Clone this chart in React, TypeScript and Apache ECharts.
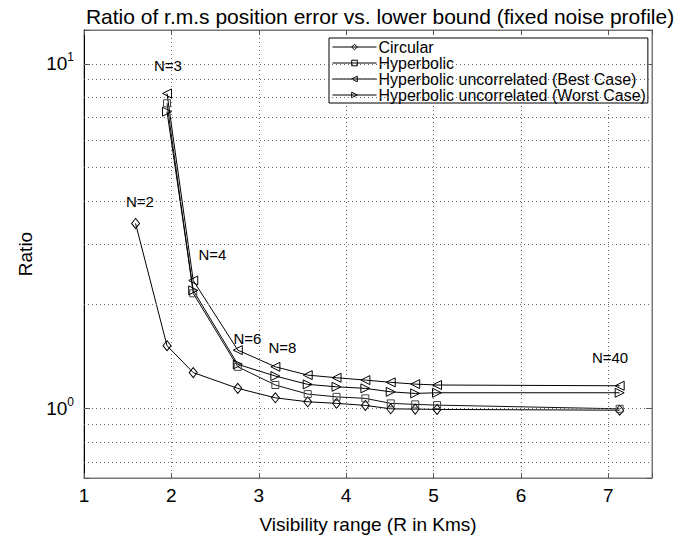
import React, { useEffect, useRef } from 'react';
import * as echarts from 'echarts';

// Visibility range (km) for N = 2, 3, 4, 6, 8, 10, 12, 14, 16, 18, 20, 40
const rangeKm = [1.59, 1.95, 2.25, 2.76, 3.19, 3.56, 3.89, 4.22, 4.51, 4.79, 5.04, 7.13];
const circular = [3.44, 1.52, 1.27, 1.143, 1.073, 1.045, 1.034, 1.02, 0.997, 0.995, 0.993, 0.988];
// Hyperbolic series start at N = 3
const hyperbolic = [7.68, 2.157, 1.32, 1.169, 1.1, 1.08, 1.069, 1.034, 1.027, 1.022, 0.997];
const bestCase = [8.2, 2.35, 1.476, 1.32, 1.249, 1.227, 1.208, 1.19, 1.176, 1.169, 1.163];
const worstCase = [7.26, 2.2, 1.342, 1.241, 1.174, 1.155, 1.143, 1.117, 1.105, 1.11, 1.11];

const seriesNames = [
  'Circular',
  'Hyperbolic',
  'Hyperbolic uncorrelated (Best Case)',
  'Hyperbolic uncorrelated (Worst Case)',
];
const yGridValues = [0.7, 0.8, 0.9, 1, 2, 3, 4, 5, 6, 7, 8, 9, 10];
const nLabelTexts = ['N=2', 'N=3', 'N=4', 'N=6', 'N=8', 'N=40'];
const nLabelX = [1.64, 1.96, 2.47, 2.87, 3.27, 7.02];
const nLabelY = [3.98, 9.91, 2.8, 1.596, 1.499, 1.406];

const FONT = '"Liberation Sans", Arial, Helvetica, sans-serif';
const Y_MIN = 0.628;
const Y_MAX = 12.53;

const pairs = (xs: number[], ys: number[]) => ys.map((y, i) => [xs[i], y]);

export default function App() {
  const ref = useRef<HTMLDivElement>(null);
  useEffect(() => {
    if (!ref.current) return;
    const chart = echarts.init(ref.current, undefined, { renderer: 'svg' });
    const hx = rangeKm.slice(1);
    const hollow = { color: 'rgba(255,255,255,0)', borderColor: '#000', borderWidth: 1 };
    const common = {
      type: 'line',
      xAxisIndex: 0,
      yAxisIndex: 0,
      symbolSize: 8,
      lineStyle: { color: '#000', width: 1 },
      itemStyle: hollow,
      emphasis: { disabled: true },
    };
    const isPow10 = (v: number) => Math.abs(Math.log10(v) - Math.round(Math.log10(v))) < 1e-6;
    const option: any = {
      animation: false,
      backgroundColor: '#fff',
      textStyle: { fontFamily: FONT },
      title: {
        text: 'Ratio of r.m.s position error vs. lower bound (fixed noise profile)',
        left: 375,
        top: 1,
        textAlign: 'center',
        textStyle: { fontFamily: FONT, fontSize: 21, fontWeight: 'normal', color: '#000' },
      },
      legend: {
        data: seriesNames,
        orient: 'vertical',
        left: 329,
        top: 38,
        padding: [1, 2, 0, 3],
        itemGap: 0,
        itemWidth: 44,
        itemHeight: 7,
        backgroundColor: '#fff',
        borderColor: '#000',
        borderWidth: 1,
        borderRadius: 0,
        selectedMode: false,
        itemStyle: hollow,
        lineStyle: { color: '#000', width: 1 },
        textStyle: { fontFamily: FONT, fontSize: 16, color: '#000', padding: [0, 0, 0, -3] },
      },
      grid: { left: 84, right: 27, top: 30, bottom: 66, show: true, borderColor: '#777', borderWidth: 1 },
      xAxis: [
        {
          type: 'value',
          min: 1,
          max: 7.5,
          interval: 1,
          name: 'Visibility range (R in Kms)',
          nameLocation: 'middle',
          nameGap: 37,
          nameTextStyle: { fontFamily: FONT, fontSize: 19, color: '#000' },
          axisLine: { show: true, lineStyle: { color: '#777', width: 1 } },
          axisTick: { show: true, inside: true, length: 5, lineStyle: { color: '#555' } },
          axisLabel: {
            fontFamily: FONT,
            fontSize: 19,
            color: '#000',
            margin: 8,
            formatter: (v: number) => (Number.isInteger(v) ? String(v) : ''),
          },
          splitLine: { show: true, lineStyle: { type: [1, 3], color: '#666', width: 1 } },
        },
        {
          type: 'value',
          position: 'top',
          min: 1,
          max: 7.5,
          interval: 1,
          axisLine: { show: true, lineStyle: { color: '#777', width: 1 } },
          axisTick: { show: true, inside: true, length: 5, lineStyle: { color: '#555' } },
          axisLabel: { show: false },
          splitLine: { show: false },
        },
      ],
      yAxis: [
        {
          type: 'log',
          min: Y_MIN,
          max: Y_MAX,
          name: 'Ratio',
          nameLocation: 'middle',
          nameGap: 44,
          nameTextStyle: { fontFamily: FONT, fontSize: 19, color: '#000' },
          axisLine: { show: true, lineStyle: { color: '#000', width: 1 } },
          axisTick: { show: true, inside: true, length: 6, lineStyle: { color: '#555' } },
          axisLabel: {
            margin: 10,
            formatter: (v: number) =>
              isPow10(v) ? `{b|10}{s|${Math.round(Math.log10(v))}}` : '',
            rich: {
              b: { fontFamily: FONT, fontSize: 19, color: '#000' },
              s: { fontFamily: FONT, fontSize: 12, color: '#000', verticalAlign: 'bottom', padding: [0, 0, 13, 0] },
            },
          },
          splitLine: { show: false },
        },
        {
          type: 'log',
          position: 'right',
          min: Y_MIN,
          max: Y_MAX,
          axisLine: { show: true, lineStyle: { color: '#777', width: 1 } },
          axisTick: { show: true, inside: true, length: 6, lineStyle: { color: '#555' } },
          axisLabel: { show: false },
          splitLine: { show: false },
        },
      ],
      series: [
        {
          ...common,
          name: seriesNames[0],
          symbol: 'diamond',
          symbolSize: [8, 10],
          data: pairs(rangeKm, circular),
          markLine: {
            silent: true,
            symbol: ['none', 'none'],
            label: { show: false },
            lineStyle: { type: [1, 3], color: '#666', width: 1 },
            data: yGridValues.map((v) => ({ yAxis: v })),
          },
          markPoint: {
            silent: true,
            symbol: 'rect',
            symbolSize: 1,
            itemStyle: { color: 'rgba(0,0,0,0)' },
            label: { show: true, position: 'inside', fontFamily: FONT, fontSize: 15, color: '#000' },
            data: nLabelTexts.map((t, i) => ({
              coord: [nLabelX[i], nLabelY[i]],
              label: { formatter: t },
            })),
          },
        },
        {
          ...common,
          name: seriesNames[1],
          symbol: 'rect',
          symbolSize: 7,
          lineStyle: { color: '#111', width: 1 },
          itemStyle: { color: 'rgba(255,255,255,0)', borderColor: '#444', borderWidth: 1 },
          data: pairs(hx, hyperbolic),
        },
        {
          ...common,
          name: seriesNames[2],
          symbol: 'triangle',
          symbolRotate: 90,
          symbolSize: [9, 9],
          data: pairs(hx, bestCase),
        },
        {
          ...common,
          name: seriesNames[3],
          symbol: 'triangle',
          symbolRotate: -90,
          symbolSize: [9, 9],
          data: pairs(hx, worstCase),
        },
      ],
    };
    chart.setOption(option);
    return () => chart.dispose();
  }, []);
  return <div ref={ref} style={{ width: 679, height: 544, position: 'absolute', left: 0, top: 0 }} />;
}
